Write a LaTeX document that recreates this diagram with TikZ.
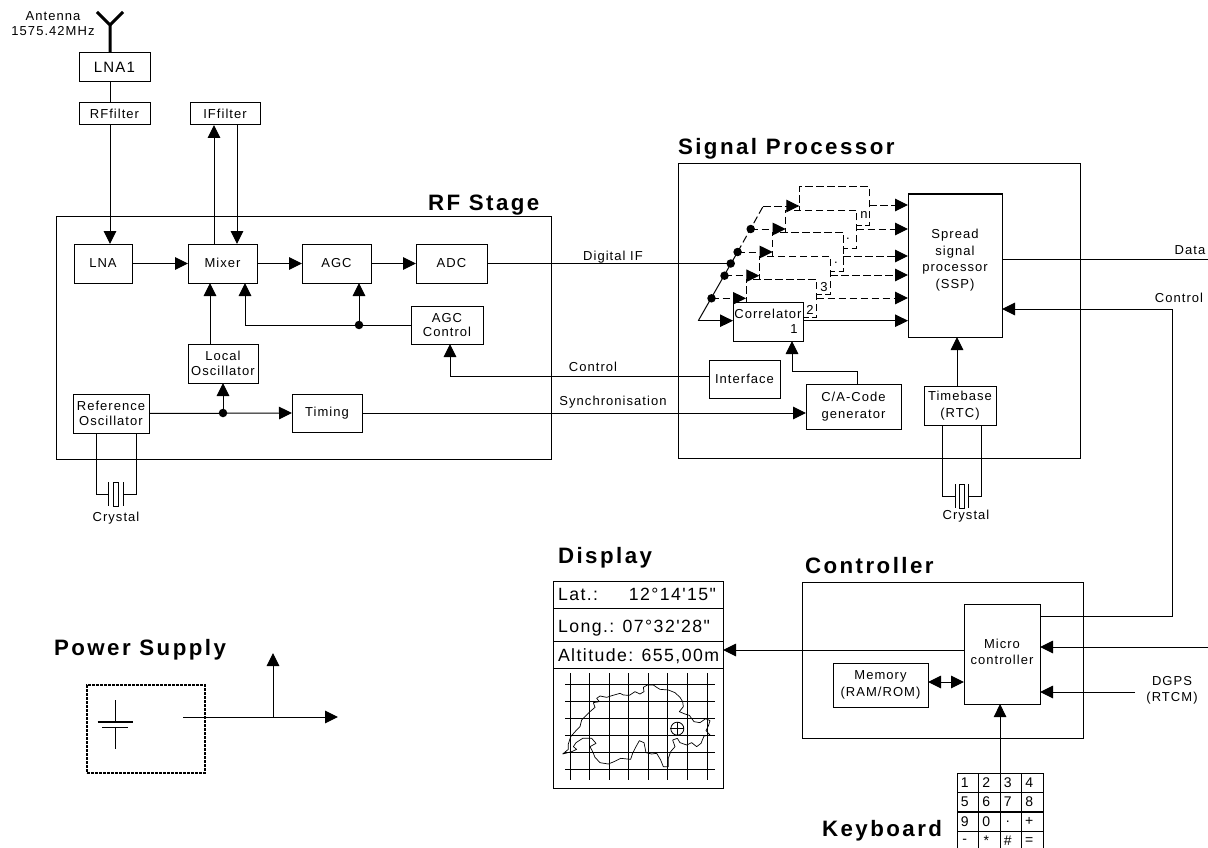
\documentclass[tikz,border=0pt]{standalone}
\usepackage{fontspec}
\setmainfont[LetterSpace=8]{Liberation Sans}
\newfontfamily\ttlfont[LetterSpace=11]{Liberation Sans}
\newfontfamily\dspfont[LetterSpace=8]{Liberation Sans}
\usetikzlibrary{arrows.meta,calc}
\newcommand{\bx}[7][]{%
  \pgfmathsetmacro\bxX{(#3+#5)/2}\pgfmathsetmacro\bxY{(#4+#6)/2}%
  \pgfmathsetmacro\bxW{#5-#3}\pgfmathsetmacro\bxH{#6-#4}%
  \node[box,#1,minimum width=\bxW pt,minimum height=\bxH pt] (#2) at (\bxX,\bxY) {#7};}
\tikzset{
  box/.style={draw=black,fill=white,line width=1pt,inner sep=0pt,outer sep=0pt,align=center,
    font=\fontsize{13}{16.3}\selectfont},
  frame/.style={box},
  dbox/.style={box,dash pattern=on 7.5pt off 3.5pt},
  lab/.style={inner sep=0pt,outer sep=0pt,align=center,font=\fontsize{13}{16.3}\selectfont},
  title/.style={inner sep=0pt,outer sep=0pt,anchor=west,font=\fontsize{22.3}{26}\selectfont\ttlfont\bfseries},
  dsp/.style={inner sep=0pt,outer sep=0pt,font=\fontsize{17.7}{22}\selectfont\dspfont},
  wire/.style={line width=1pt},
  arr/.style={line width=1pt,-{Triangle[length=13pt,width=12.5pt]}},
  darr/.style={arr,dash pattern=on 7.5pt off 3.5pt},
  dblarr/.style={line width=1pt,{Triangle[length=13pt,width=12.5pt]}-{Triangle[length=13pt,width=12.5pt]}},
  dotn/.style={circle,fill=black,inner sep=0pt,minimum size=8.5pt,outer sep=0pt},
  key/.style={draw=black,line width=1pt,inner sep=0pt,outer sep=0pt,minimum width=21.5pt,minimum height=19pt,
    font=\fontsize{14}{15}\selectfont},
  grid line/.style={line width=1pt},
}
\begin{document}
\begin{tikzpicture}[x=1pt,y=-1pt]
\useasboundingbox (0,0) rectangle (1208,848);
% frames
\bx[frame]{rfstage}{56}{216}{551}{459}{}
\bx[frame]{sigproc}{678}{164}{1080}{458}{}
\bx[frame]{ctrl}{802}{582}{1083}{738}{}
% titles
\node[title] (trf) at (428,205) {RF Stage};
\node[title] (tsp) at (678,149) {Signal Processor};
\node[title] (tdisp) at (558,558) {Display};
\node[title] (tctrl) at (805,566) {Controller};
\node[title] (tpow) at (54,650) {Power Supply};
\node[title] (tkey) at (822,831) {Keyboard};
% antenna
\coordinate (ant) at (110,25);
\coordinate (antL) at (97,12);
\coordinate (antR) at (123,12);
\node[lab] (antl) at (53,23.5) {Antenna\\[-1pt]1575.42MHz};
% RF boxes
\bx{lnaone}{79}{53}{150}{82}{\fontsize{15}{17}\selectfont LNA1}
\bx{rff}{79}{103}{150}{125}{RFfilter}
\bx{iff}{190}{103}{260}{125}{IFfilter}
\bx{lna}{74}{244}{132}{283}{LNA}
\bx{mixer}{188}{244}{257}{283}{\raisebox{2pt}{Mixer}}
\bx{agc}{302}{244}{371}{283}{\raisebox{1pt}{AGC}}
\bx{adc}{416}{244}{487}{283}{ADC}
\bx{agcc}{411}{306}{483}{344}{AGC\\[-2pt]Control}
\bx{lo}{188}{344}{258}{383}{Local\\[-1pt]Oscillator}
\bx{ref}{73}{394}{149}{433}{Reference\\[-1pt]Oscillator}
\bx{timing}{292}{394}{362}{432}{\raisebox{-3pt}{Timing}}
% RF wires
\draw[line width=3pt] (ant |- lnaone.north) -- (ant) -- (antL);
\draw[line width=3pt] (ant) -- (antR);
\draw[wire] (ant |- lnaone.south) -- (ant |- rff.north);
\draw[arr] (ant |- rff.south) -- (ant |- lna.north);
\coordinate (ifu) at (214,180);
\coordinate (ifd) at (237,180);
\draw[arr] (ifu |- mixer.north) -- (ifu |- iff.south);
\draw[arr] (ifd |- iff.south) -- (ifd |- mixer.north);
\draw[arr] (lna.east) -- (mixer.west);
\draw[arr] (mixer.east) -- (agc.west);
\draw[arr] (agc.east) -- (adc.west);
\coordinate (mfb) at (245,325);
\node[dotn] (jagc) at (359,325) {};
\draw[wire] (agcc.west) -- (jagc.center);
\draw[arr] (jagc.center) -- (mfb) -- (mfb |- mixer.south);
\draw[arr] (jagc.center) -- (jagc.center |- agc.south);
\coordinate (lop) at (210,360);
\draw[arr] (lop |- lo.north) -- (lop |- mixer.south);
\node[dotn] (jref) at (223,413) {};
\draw[arr] (ref.east) -- (timing.west);
\draw[arr] (jref.center) -- (jref.center |- lo.south);
% crystal 1
\coordinate (cxl) at (96,494);
\coordinate (cxr) at (136,494);
\node[draw=black,line width=1pt,inner sep=0pt,minimum width=5pt,minimum height=24pt] (xtal) at (116,494) {};
\coordinate (pl) at (108,494);
\coordinate (pr) at (123,494);
\draw[wire] (cxl |- ref.south) -- (cxl) -- (pl);
\draw[wire] (cxr |- ref.south) -- (cxr) -- (pr);
\draw[wire] ($(pl)+(0,-12)$) -- ($(pl)+(0,12)$);
\draw[wire] ($(pr)+(0,-12)$) -- ($(pr)+(0,12)$);
\node[lab] (xt1) at (116,518) {Crystal};
% signal processor boxes
\bx[dbox]{cn}{799.3}{186.7}{869.3}{225.3}{}
\bx[dbox]{c5}{785.7}{210}{856.7}{248.3}{}
\bx[dbox]{c4}{772.7}{232.7}{843.3}{271.3}{}
\bx[dbox]{c3}{759.3}{256}{830}{294.3}{}
\bx[dbox]{c2}{746}{279}{816.7}{317.3}{}
\bx{corr}{733}{302}{803}{341}{}
\node[lab] (corrt) at (768,314) {Correlator};
\node[lab] (corr1) at (794,329) {1};
\node[lab] (l2) at (810,310) {2};
\node[lab] (l3) at (824,287) {3};
\node[lab] (l4) at (836,263) {.};
\node[lab] (l5) at (848,239) {.};
\node[lab] (ln) at (864,215) {n};
\bx{ssp}{908}{194}{1002}{337}{}
\node[lab] (ssptext) at (955,260) {Spread\\[0.3pt]signal\\[0.3pt]processor\\[0.3pt](SSP)};
\bx{iface}{709}{360}{780}{398}{Interface}
\bx{ca}{806}{384}{901}{429}{\raisebox{1pt}{C/A-Code}\\generator}
\bx{tb}{924}{386}{996}{425}{Timebase\\(RTC)}
% correlator feed
\coordinate (fb) at (698.3,320.7);
\coordinate (ft) at (763.3,206);
\node[dotn] (d1) at (711.5,298.3) {};
\node[dotn] (d2) at (724.5,275.7) {};
\node[dotn] (d0) at (730.7,263.5) {};
\node[dotn] (d3) at (737.6,252) {};
\node[dotn] (d4) at (750.7,229) {};
\draw[wire] (fb) -- (d3.center);
\draw[wire,dash pattern=on 7.5pt off 3.5pt] (d3.center) -- (ft);
\draw[darr] (ft) -- (ft -| cn.west);
\draw[arr] (fb) -- (fb -| corr.west);
\draw[darr] (d1.center) -- (d1.center -| c2.west);
\draw[darr] (d2.center) -- (d2.center -| c3.west);
\draw[darr] (d3.center) -- (d3.center -| c4.west);
\draw[darr] (d4.center) -- (d4.center -| c5.west);
\coordinate (o2) at (0,298);
\coordinate (o3) at (0,275);
\coordinate (o4) at (0,256);
\coordinate (o5) at (0,229);
\coordinate (on) at (0,205);
\coordinate (o1) at (0,320.7);
\draw[arr] (corr.east |- o1) -- (ssp.west |- o1);
\draw[darr] (c2.east |- o2) -- (ssp.west |- o2);
\draw[darr] (c3.east |- o3) -- (ssp.west |- o3);
\draw[darr] (c4.east |- o4) -- (ssp.west |- o4);
\draw[darr] (c5.east |- o5) -- (ssp.west |- o5);
\draw[darr] (cn.east |- on) -- (ssp.west |- on);
% link wires
\draw[wire] (adc.east) -- (d0.center);
\node[lab,anchor=south] (ldig) at (613,263) {Digital IF};
\coordinate (cc) at (450,376);
\draw[arr] (iface.west |- cc) -- (cc) -- (cc |- agcc.south);
\node[lab,anchor=south] (lctl) at (593,372) {Control};
\draw[arr] (timing.east) -- (ca.west |- timing.east);
\node[lab,anchor=south] (lsyn) at (613,408) {Synchronisation};
\coordinate (caa) at (792,371);
\coordinate (cab) at (857,371);
\draw[arr] (cab |- ca.north) -- (cab) -- (caa) -- (caa |- corr.south);
\coordinate (tbx) at (957,360);
\draw[arr] (tbx |- tb.north) -- (tbx |- ssp.south);
% crystal 2
\coordinate (dxl) at (942,496);
\coordinate (dxr) at (981,496);
\node[draw=black,line width=1pt,inner sep=0pt,minimum width=5.5pt,minimum height=24pt] (xtal2) at (962,496) {};
\coordinate (ql) at (955,496);
\coordinate (qr) at (968,496);
\draw[wire] (dxl |- tb.south) -- (dxl) -- (ql);
\draw[wire] (dxr |- tb.south) -- (dxr) -- (qr);
\draw[wire] ($(ql)+(0,-12)$) -- ($(ql)+(0,12)$);
\draw[wire] ($(qr)+(0,-12)$) -- ($(qr)+(0,12)$);
\node[lab] (xt2) at (966,516) {Crystal};
% controller
\bx{micro}{964}{604}{1040}{704}{}
\node[lab] (microtext) at (1002,652) {Micro\\controller};
\bx{mem}{833}{663}{928}{707}{Memory\\(RAM/ROM)}
\coordinate (ed) at (1208,259);
\draw[wire] (ssp.east |- ed) -- (ed);
\node[lab] (ldata) at (1190,250) {Data};
\coordinate (cu) at (1172,309);
\coordinate (cl) at (1172,616);
\draw[arr] (micro.east |- cl) -- (cl) -- (cu) -- (ssp.east |- cu);
\node[lab] (lc2) at (1179,298) {Control};
\coordinate (er) at (1208,647);
\draw[arr] (er) -- (micro.east |- er);
\coordinate (dg) at (1135,692);
\draw[arr] (dg) -- (micro.east |- dg);
\node[lab] (ldg) at (1172,690) {DGPS\\(RTCM)};
\coordinate (mm) at (900,682);
\draw[dblarr] (mem.east |- mm) -- (micro.west |- mm);
% display
\bx{disp}{553}{581}{723}{788}{}
\coordinate (da) at (900,650);
\draw[arr] (micro.west |- da) -- (disp.east |- da);
\coordinate (dl1) at (553,608);
\coordinate (dl2) at (553,641);
\coordinate (dl3) at (553,668);
\draw[wire] (dl1) -- (disp.east |- dl1);
\draw[wire] (dl2) -- (disp.east |- dl2);
\draw[wire] (dl3) -- (disp.east |- dl3);
\node[dsp,anchor=base west] (dt1) at (558,600) {Lat.:};
\node[dsp,anchor=base east] (dt1b) at (716,600) {12°14'15"};
\node[dsp,anchor=base west] (dt2) at (558,632) {Long.: 07°32'28"};
\node[dsp,anchor=base west] (dt3) at (558,661) {Altitude: 655,00m};
\begin{scope}[shift={(540,570)},x=0.33333pt,y=-0.33333pt]
\foreach \gx in {90,148,207,266,325,383,442,501} \draw[grid line] (\gx,310) -- (\gx,630);
\foreach \gy in {343,394,445,496,547,598} \draw[grid line] (76,\gy) -- (525,\gy);
\draw[line width=0.7pt,line join=round] (68,552) -- (85,538) -- (85,522) -- (92,500) -- (108,482) -- (120,470) -- (125,450) -- (140,435) -- (150,425) -- (165,412) -- (160,398) -- (178,395) -- (170,385) -- (180,378) -- (200,382) -- (212,378) -- (240,370) -- (250,375) -- (268,376) -- (285,365) -- (300,372) -- (312,365) -- (310,352) -- (322,345) -- (340,345) -- (350,352) -- (360,358) -- (385,360) -- (405,368) -- (420,382) -- (428,395) -- (430,410) -- (418,425) -- (435,432) -- (448,436) -- (462,455) -- (480,458) -- (497,446) -- (510,452) -- (505,468) -- (498,482) -- (510,495) -- (492,498) -- (483,520) -- (470,530) -- (455,518) -- (440,525) -- (420,518) -- (412,505) -- (398,510) -- (405,530) -- (392,545) -- (385,565) -- (385,590) -- (370,590) -- (362,570) -- (350,550) -- (335,552) -- (318,548) -- (312,518) -- (298,512) -- (288,530) -- (278,550) -- (272,568) -- (242,565) -- (222,575) -- (205,582) -- (180,578) -- (165,562) -- (158,545) -- (150,530) -- (168,520) -- (155,505) -- (128,505) -- (108,518) -- (100,530) -- (110,538) -- (95,545) -- (68,552);
\node[circle,draw=black,line width=0.8pt,fill=none,inner sep=0pt,minimum size=13pt] (mark) at (412,476) {};
\draw[line width=0.8pt] (mark.north) -- (mark.south);
\draw[line width=0.8pt] (mark.west) -- (mark.east);
\end{scope}
% keyboard
\newcommand{\kk}[4]{\node[key] (#1) at (#2,#3) {\kern-6pt #4};}
\kk{ka}{967.8}{782.5}{1}\kk{kb}{989.3}{782.5}{2}\kk{kc}{1010.8}{782.5}{3}\kk{kd}{1032.3}{782.5}{4}
\kk{ke}{967.8}{802}{5}\kk{kf}{989.3}{802}{6}\kk{kg}{1010.8}{802}{7}\kk{kh}{1032.3}{802}{8}
\kk{ki}{967.8}{821.5}{9}\kk{kj}{989.3}{821.5}{0}\kk{kk}{1010.8}{821.5}{.}\kk{kl}{1032.3}{821.5}{+}
\kk{km}{967.8}{841}{-}\kk{kn}{989.3}{841}{*}\kk{ko}{1010.8}{841}{\#}\kk{kp}{1032.3}{841}{=}
\draw[arr] (kc.north west) -- (kc.north west |- micro.south);
% power supply
\node[draw=black,line width=2.6pt,dash pattern=on 2.6pt off 1.4pt,inner sep=0pt,minimum width=118pt,minimum height=88pt] (psu) at (146,729) {};
\coordinate (bt) at (115,700);
\coordinate (bb) at (115,749);
\coordinate (bp1) at (115,722);
\coordinate (bp2) at (115,727);
\draw[wire] (bt) -- (bp1);
\draw[wire] (bp2) -- (bb);
\draw[line width=2.6pt] ($(bp1)+(-17.5,0)$) -- ($(bp1)+(17.5,0)$);
\draw[wire] ($(bp2)+(-13,0)$) -- ($(bp2)+(13,0)$);
\coordinate (pa) at (183,717);
\coordinate (pe) at (338,717);
\coordinate (pj) at (273,717);
\coordinate (pu) at (273,653);
\draw[arr] (pa) -- (pe);
\draw[arr] (pj) -- (pu);
\end{tikzpicture}
\end{document}
